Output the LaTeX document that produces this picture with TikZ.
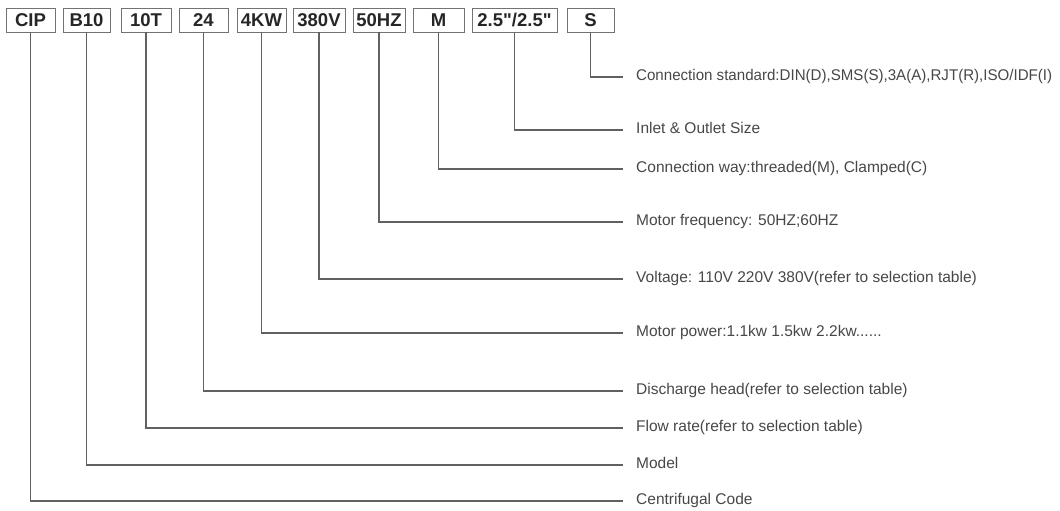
\documentclass[tikz,border=0pt]{standalone}
\usepackage{fontspec}
\usepackage{graphicx}
\setmainfont{Liberation Sans}
\newfontfamily\boxfont{Liberation Sans}[Ligatures=TeXOff]
\begin{document}
\begin{tikzpicture}[x=1pt,y=-1pt,
  codebox/.style={draw=black!55,line width=0.9pt,inner sep=0pt,minimum height=24pt,
    font=\boxfont\fontsize{18.5}{20}\selectfont\bfseries,text=black!85},
  desc/.style={anchor=west,inner sep=0pt,text height=0.72em,text depth=0pt,
    font=\fontsize{15.5}{17}\selectfont,text=black!72},
  conn/.style={draw=black!62,line width=1.1pt,shorten >=13pt}]
\useasboundingbox (0,0) rectangle (1060,511);
\node[codebox,minimum width=49pt] (b1) at (30.5,20) {CIP};
\node[codebox,minimum width=47pt] (b2) at (86.5,20) {B10};
\node[codebox,minimum width=50pt] (b3) at (146,20) {10T};
\node[codebox,minimum width=49pt] (b4) at (203.5,20) {24};
\node[codebox,minimum width=49pt] (b5) at (261.5,20) {4KW};
\node[codebox,minimum width=52pt] (b6) at (319,20) {380V};
\node[codebox,minimum width=52pt] (b7) at (379,20) {50HZ};
\node[codebox,minimum width=51pt] (b8) at (438.5,20) {M};
\node[codebox,minimum width=85pt] (b9) at (514.5,20) {2.5"/2.5"};
\node[codebox,minimum width=47pt] (b10) at (590.5,20) {S};
\node[desc] (l10) at (636,77) {\resizebox{416pt}{\height}{Connection standard:DIN(D),SMS(S),3A(A),RJT(R),ISO/IDF(I)}};
\node[desc] (l9) at (636,130) {Inlet \& Outlet Size};
\node[desc] (l8) at (636,169) {Connection way:threaded(M), Clamped(C)};
\node[desc] (l7) at (636,222) {Motor frequency: 50HZ;60HZ};
\node[desc] (l6) at (636,279) {Voltage: 110V 220V 380V(refer to selection table)};
\node[desc] (l5) at (636,333) {Motor power:1.1kw 1.5kw 2.2kw......};
\node[desc] (l4) at (636,391) {Discharge head(refer to selection table)};
\node[desc] (l3) at (636,428) {Flow rate(refer to selection table)};
\node[desc] (l2) at (636,465) {Model};
\node[desc] (l1) at (636,501) {Centrifugal Code};
\foreach \i in {1,...,10}{
  \draw[conn] (b\i.south) |- (l\i.west);
}
\end{tikzpicture}
\end{document}
